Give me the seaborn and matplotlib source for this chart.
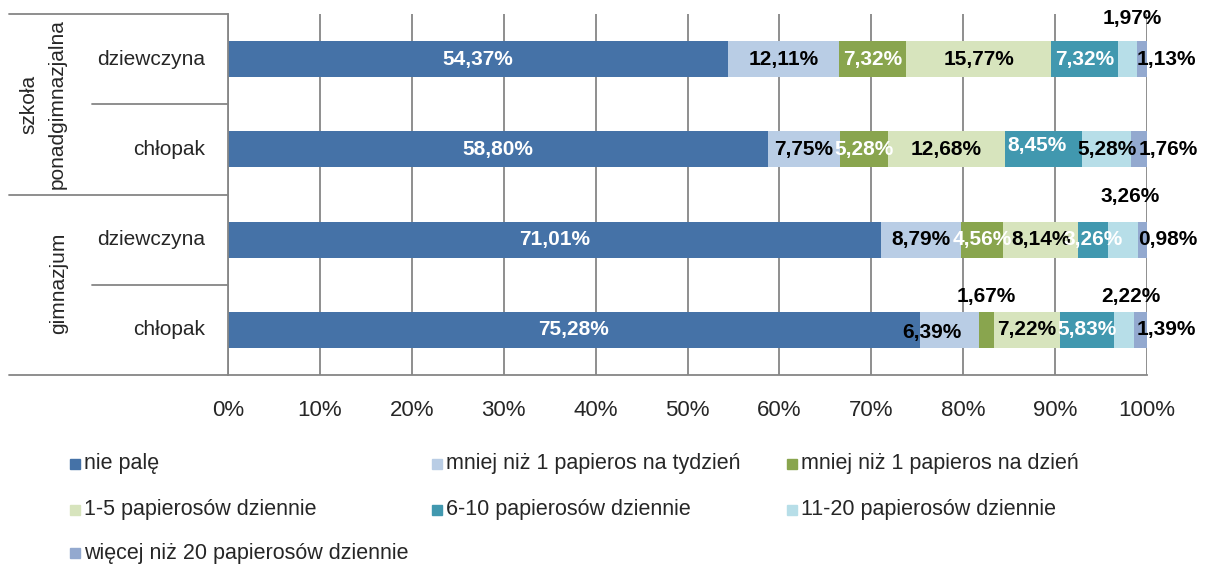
"""Stacked horizontal bars: smoking frequency by school type and gender."""

import matplotlib.pyplot as plt
from matplotlib.lines import Line2D
from matplotlib.patches import Rectangle
import numpy as np
import seaborn as sns

# --- data -------------------------------------------------------------------
groups = ["szkoła\nponadgimnazjalna", "gimnazjum"]
row_labels = ["dziewczyna", "chłopak", "dziewczyna", "chłopak"]
row_keys = ["sp_d", "sp_c", "g_d", "g_c"]

series_names = [
    "nie palę",
    "mniej niż 1 papieros na tydzień",
    "mniej niż 1 papieros na dzień",
    "1-5 papierosów dziennie",
    "6-10 papierosów dziennie",
    "11-20 papierosów dziennie",
    "więcej niż 20 papierosów dziennie",
]
nie_pale = [54.37, 58.80, 71.01, 75.28]
mniej_tydzien = [12.11, 7.75, 8.79, 6.39]
mniej_dzien = [7.32, 5.28, 4.56, 1.67]
p1_5 = [15.77, 12.68, 8.14, 7.22]
p6_10 = [7.32, 8.45, 3.26, 5.83]
p11_20 = [1.97, 5.28, 3.26, 2.22]
p20_plus = [1.13, 1.76, 0.98, 1.39]
values = np.array([nie_pale, mniej_tydzien, mniej_dzien, p1_5, p6_10, p11_20, p20_plus])

colors = ["#4572A7", "#B9CDE5", "#89A54E", "#D7E4BD", "#4198AF", "#B7DEE8", "#93A9CF"]
label_white = [True, False, True, False, True, False, False]

# manual label nudges (row, series) -> (dx px, dy px), like the hand-moved Excel labels
nudges = {
    (0, 5): (5, -41), (0, 6): (25, 0),
    (1, 4): (-6, -4), (1, 6): (29, 0),
    (2, 5): (7, -43), (2, 6): (25, 0),
    (3, 1): (-17, 3), (3, 2): (0, -33), (3, 5): (7, -33), (3, 6): (26, 0),
}

# --- figure -----------------------------------------------------------------
W, H = 1206, 564
sns.set_style("white")
plt.rcParams["font.family"] = ["Liberation Sans", "DejaVu Sans"]

fig = plt.figure(figsize=(W / 100, H / 100), dpi=100)


def fx(px):
    return px / W


def fy(py):
    return 1 - py / H


x0, x1, y_top, y_bot = 228, 1147, 14, 375
ax = fig.add_axes([fx(x0), fy(y_bot), fx(x1 - x0), (y_bot - y_top) / H])

# stacked bars: draw cumulative totals from the longest down
cum = np.cumsum(values, axis=0)
for i in reversed(range(len(series_names))):
    sns.barplot(x=cum[i], y=row_keys, order=row_keys, orient="h", color=colors[i],
                saturation=1, width=0.4, errorbar=None, linewidth=0, ax=ax)

grid_c = "#868686"
ax.set_xlim(0, 100)
ax.set_xticks(np.arange(0, 101, 10))
ax.set_xticklabels([f"{t}%" for t in range(0, 101, 10)], fontsize=16)
ax.set_yticks([])
ax.set_xlabel("")
ax.set_ylabel("")
ax.xaxis.grid(True, color=grid_c, linewidth=1.3)
ax.set_axisbelow(True)
ax.tick_params(axis="x", length=6, width=1.3, color=grid_c, pad=12, direction="out")
for side in ["top", "right"]:
    ax.spines[side].set_visible(False)
for side in ["left", "bottom"]:
    ax.spines[side].set_color(grid_c)
    ax.spines[side].set_linewidth(1.3)

# data labels
for r in range(len(row_keys)):
    for i, v in enumerate(values[:, r]):
        left = cum[i, r] - v
        dx, dy = nudges.get((r, i), (0, 0))
        outside = abs(dy) > 20 or dx > 20
        col = "white" if label_white[i] and not outside else "black"
        txt = f"{v:.2f}%".replace(".", ",")
        ax.annotate(txt, xy=(left + v / 2, r), xytext=(dx * 0.72, -dy * 0.72),
                    textcoords="offset points", ha="center", va="center",
                    fontsize=15, fontweight="bold", color=col)

# category labels and group separators on the left
for r, lab in enumerate(row_labels):
    ax.text(-23 / (x1 - x0) * 100, r, lab, ha="right", va="center", fontsize=15)

fig.add_artist(Line2D([fx(9), fx(x0)], [fy(14), fy(14)], color=grid_c, lw=1.3))
fig.add_artist(Line2D([fx(9), fx(x0)], [fy(195), fy(195)], color=grid_c, lw=1.3))
fig.add_artist(Line2D([fx(9), fx(x0)], [fy(y_bot), fy(y_bot)], color=grid_c, lw=1.3))
fig.add_artist(Line2D([fx(92), fx(x0)], [fy(104), fy(104)], color=grid_c, lw=1.3))
fig.add_artist(Line2D([fx(92), fx(x0)], [fy(285), fy(285)], color=grid_c, lw=1.3))

fig.text(fx(43), fy(104), groups[0], rotation=90, ha="center", va="center",
         fontsize=15, linespacing=1.6, multialignment="center")
fig.text(fx(59), fy(283), groups[1], rotation=90, ha="center", va="center", fontsize=15)

# legend laid out like Excel's equal-width columns
leg_x = [70, 432, 787]
leg_y = [464, 510, 553]
for i, name in enumerate(series_names):
    cx, cy = leg_x[i % 3], leg_y[i // 3]
    fig.add_artist(Rectangle((fx(cx), fy(cy + 5)), fx(10), 10 / H,
                             color=colors[i], transform=fig.transFigure))
    fig.text(fx(cx + 14), fy(cy), name, ha="left", va="center", fontsize=15.5)

fig.savefig("out.png", dpi=100)
